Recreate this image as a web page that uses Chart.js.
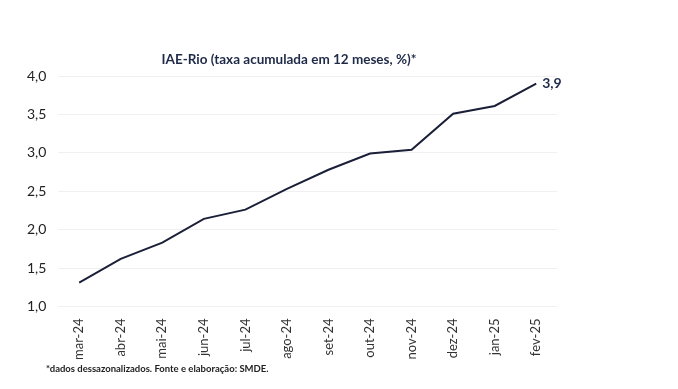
<!DOCTYPE html>
<html>
<head>
<meta charset="utf-8">
<script src="https://cdn.jsdelivr.net/npm/chart.js@4"></script>
<style>
  html, body { margin: 0; padding: 0; background: #fff; }
  #wrap { width: 678px; height: 389px; }
</style>
</head>
<body>
<div id="wrap"><canvas id="iaeRio" width="678" height="389"></canvas></div>
<script>
const meses = ["mar-24", "abr-24", "mai-24", "jun-24", "jul-24", "ago-24", "set-24", "out-24", "nov-24", "dez-24", "jan-25", "fev-25"];
const taxa = [1.31, 1.62, 1.83, 2.14, 2.26, 2.53, 2.78, 2.99, 3.04, 3.51, 3.61, 3.9];
const titulo = "IAE-Rio (taxa acumulada em 12 meses, %)*";
const nota = "*dados dessazonalizados. Fonte e elaboração: SMDE.";

const fmt = (v) => v.toFixed(1).replace(".", ",");

// textos extras: titulo, nota de rodape e rotulo do ultimo ponto
const textos = {
  id: "textos",
  afterDraw(chart) {
    const ctx = chart.ctx;
    ctx.save();
    ctx.fillStyle = "#1f2a48";
    ctx.font = "bold 13.5px Lato";
    ctx.textAlign = "center";
    ctx.textBaseline = "middle";
    ctx.fillText(titulo, 289, 60);

    ctx.font = "bold 9.5px Lato";
    ctx.fillStyle = "#222";
    ctx.textAlign = "left";
    ctx.fillText(nota, 46, 369);

    const meta = chart.getDatasetMeta(0);
    const ult = meta.data[meta.data.length - 1];
    ctx.font = "bold 14px Lato";
    ctx.fillStyle = "#1f2a48";
    ctx.fillText(fmt(taxa[taxa.length - 1]), ult.x + 6, ult.y);
    ctx.restore();
  }
};

new Chart(document.getElementById("iaeRio").getContext("2d"), {
  type: "line",
  data: {
    labels: meses,
    datasets: [{
      data: taxa,
      borderColor: "#1b1f38",
      borderWidth: 2,
      pointRadius: 0,
      tension: 0,
      fill: false
    }]
  },
  options: {
    responsive: false,
    animation: false,
    layout: { padding: { left: 15, right: 121, top: 76, bottom: 25 } },
    plugins: {
      legend: { display: false },
      tooltip: { enabled: false }
    },
    scales: {
      x: {
        offset: true,
        grid: { display: false },
        border: { display: false },
        ticks: {
          minRotation: 90,
          maxRotation: 90,
          autoSkip: false,
          color: "#333",
          font: { family: "Lato", size: 13 },
          padding: 4
        }
      },
      y: {
        min: 1,
        max: 4,
        grid: { color: "#f0f0f2", drawTicks: false, lineWidth: 1 },
        border: { display: false },
        ticks: {
          stepSize: 0.5,
          color: "#222",
          padding: 12,
          font: { family: "Lato", size: 14 },
          callback: function (value) {
            return fmt(value);
          }
        }
      }
    }
  },
  plugins: [textos]
});
</script>
</body>
</html>
